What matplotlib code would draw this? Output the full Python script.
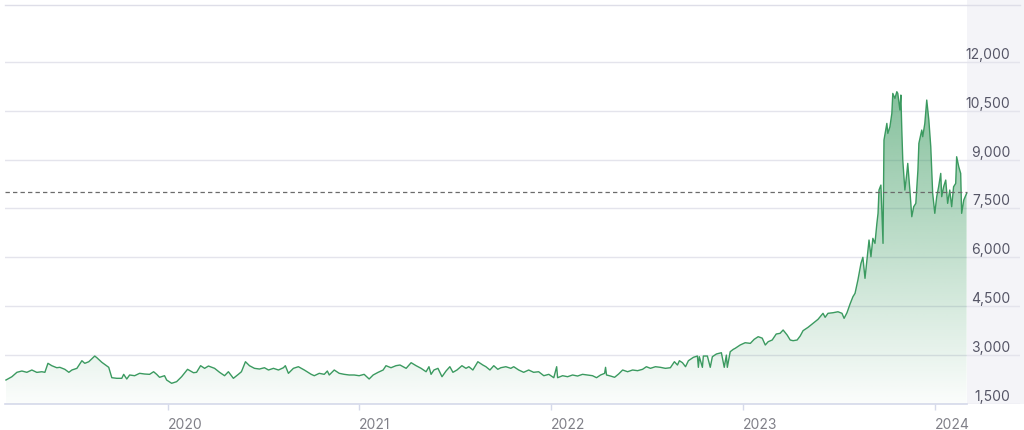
import numpy as np
import matplotlib
matplotlib.use('Agg')
import matplotlib.pyplot as plt
from matplotlib.patches import Rectangle
from matplotlib.ticker import FuncFormatter

# price readings, dates as decimal years
years = [
    2019.157, 2019.188, 2019.214, 2019.240, 2019.266, 2019.292, 2019.318, 2019.344, 2019.360, 2019.376,
    2019.396, 2019.422, 2019.438, 2019.464, 2019.485, 2019.501, 2019.527, 2019.553, 2019.568, 2019.589,
    2019.620, 2019.631, 2019.657, 2019.693, 2019.709, 2019.735, 2019.761, 2019.771, 2019.787, 2019.802,
    2019.828, 2019.854, 2019.880, 2019.906, 2019.927, 2019.943, 2019.958, 2019.984, 2019.995, 2020.021,
    2020.047, 2020.073, 2020.104, 2020.135, 2020.151, 2020.172, 2020.193, 2020.213, 2020.245, 2020.271,
    2020.297, 2020.317, 2020.343, 2020.369, 2020.385, 2020.406, 2020.427, 2020.453, 2020.479, 2020.505,
    2020.526, 2020.552, 2020.578, 2020.604, 2020.614, 2020.630, 2020.656, 2020.682, 2020.713, 2020.749,
    2020.765, 2020.791, 2020.817, 2020.833, 2020.843, 2020.869, 2020.895, 2020.921, 2020.947, 2020.973,
    2020.999, 2021.025, 2021.051, 2021.072, 2021.098, 2021.124, 2021.139, 2021.165, 2021.191, 2021.212,
    2021.244, 2021.270, 2021.296, 2021.322, 2021.348, 2021.363, 2021.374, 2021.389, 2021.410, 2021.431,
    2021.452, 2021.472, 2021.488, 2021.509, 2021.535, 2021.556, 2021.571, 2021.592, 2021.618, 2021.644,
    2021.660, 2021.681, 2021.701, 2021.722, 2021.738, 2021.764, 2021.790, 2021.805, 2021.831, 2021.857,
    2021.883, 2021.909, 2021.935, 2021.962, 2021.988, 2022.014, 2022.029, 2022.034, 2022.060, 2022.086,
    2022.112, 2022.138, 2022.164, 2022.190, 2022.216, 2022.237, 2022.258, 2022.279, 2022.284, 2022.289,
    2022.310, 2022.331, 2022.352, 2022.373, 2022.399, 2022.425, 2022.451, 2022.477, 2022.497, 2022.518,
    2022.544, 2022.570, 2022.596, 2022.622, 2022.643, 2022.659, 2022.669, 2022.685, 2022.701, 2022.716,
    2022.742, 2022.763, 2022.768, 2022.773, 2022.789, 2022.794, 2022.815, 2022.830, 2022.841, 2022.862,
    2022.888, 2022.903, 2022.914, 2022.919, 2022.934, 2022.950, 2022.960, 2022.986, 2023.012, 2023.039,
    2023.059, 2023.080, 2023.101, 2023.117, 2023.132, 2023.153, 2023.174, 2023.194, 2023.210, 2023.231,
    2023.247, 2023.262, 2023.283, 2023.299, 2023.314, 2023.340, 2023.366, 2023.392, 2023.418, 2023.429,
    2023.444, 2023.470, 2023.496, 2023.517, 2023.528, 2023.543, 2023.559, 2023.574, 2023.585, 2023.600,
    2023.616, 2023.626, 2023.637, 2023.647, 2023.658, 2023.668, 2023.678, 2023.689, 2023.699, 2023.705,
    2023.710, 2023.720, 2023.731, 2023.736, 2023.751, 2023.756, 2023.767, 2023.777, 2023.782, 2023.793,
    2023.803, 2023.808, 2023.819, 2023.824, 2023.829, 2023.834, 2023.845, 2023.855, 2023.860, 2023.871,
    2023.881, 2023.891, 2023.902, 2023.913, 2023.918, 2023.933, 2023.938, 2023.949, 2023.959, 2023.970,
    2023.980, 2023.990, 2024.001, 2024.011, 2024.021, 2024.032, 2024.037, 2024.047, 2024.058, 2024.068,
    2024.079, 2024.089, 2024.099, 2024.110, 2024.115, 2024.126, 2024.136, 2024.141, 2024.152, 2024.167,
]
prices = [
    2236, 2337, 2472, 2512, 2472, 2543, 2470, 2490, 2472, 2748,
    2675, 2613, 2625, 2564, 2472, 2543, 2594, 2828, 2748, 2797,
    2972, 2920, 2779, 2625, 2307, 2288, 2288, 2410, 2267, 2390,
    2368, 2441, 2420, 2410, 2490, 2410, 2319, 2368, 2236, 2135,
    2185, 2337, 2564, 2460, 2472, 2675, 2594, 2665, 2594, 2472,
    2368, 2490, 2288, 2410, 2490, 2797, 2675, 2594, 2573, 2613,
    2543, 2594, 2543, 2613, 2675, 2441, 2594, 2644, 2543, 2410,
    2368, 2441, 2410, 2512, 2390, 2543, 2441, 2410, 2390, 2390,
    2368, 2410, 2267, 2390, 2472, 2543, 2675, 2613, 2675, 2696,
    2594, 2767, 2675, 2594, 2490, 2644, 2410, 2543, 2594, 2337,
    2512, 2644, 2472, 2543, 2675, 2594, 2644, 2543, 2797, 2696,
    2644, 2543, 2675, 2564, 2613, 2644, 2594, 2644, 2543, 2472,
    2543, 2472, 2490, 2368, 2410, 2307, 2644, 2307, 2368, 2337,
    2390, 2358, 2410, 2390, 2368, 2307, 2390, 2440, 2625, 2390,
    2358, 2319, 2420, 2543, 2490, 2543, 2522, 2564, 2644, 2594,
    2644, 2625, 2594, 2613, 2797, 2696, 2828, 2767, 2644, 2828,
    2932, 2972, 2625, 2951, 2625, 2972, 2972, 2625, 2951, 3034,
    3073, 2625, 3000, 2625, 3104, 3177, 3208, 3310, 3380, 3360,
    3484, 3565, 3520, 3310, 3411, 3463, 3647, 3668, 3770, 3616,
    3463, 3442, 3463, 3586, 3750, 3852, 3975, 4098, 4282, 4159,
    4282, 4300, 4330, 4282, 4128, 4300, 4567, 4791, 4895, 5303,
    5815, 6000, 5355, 5916, 6530, 6018, 6582, 6428, 7042, 7349,
    8063, 8216, 6428, 9597, 10108, 9801, 10005, 10415, 11028, 10876,
    11080, 11028, 10517, 10977, 9904, 8983, 8063, 8574, 8881, 8063,
    7245, 7552, 7655, 8676, 9495, 9904, 9699, 10108, 10824, 10210,
    9392, 7961, 7349, 7860, 8164, 8574, 7860, 8164, 8370, 7655,
    8063, 7552, 8164, 8267, 9085, 8778, 8574, 7349, 7757, 7961,
]
ref_level = 8000
year_ticks = [2020, 2021, 2022, 2023, 2024]
price_ticks = [1500, 3000, 4500, 6000, 7500, 9000, 10500, 12000]

x = np.array(years)
y = np.array(prices)

fig = plt.figure(figsize=(10.24, 4.30), dpi=100)
fig.patch.set_facecolor('white')
# light panel behind the value labels on the right
fig.add_artist(Rectangle((966.5 / 1024, 26 / 430), 1 - 966.5 / 1024, 1 - 26 / 430,
                         transform=fig.transFigure, facecolor='#f4f4f8',
                         edgecolor='none', zorder=-1))

ax = fig.add_axes([5 / 1024, 26 / 430, 1015 / 1024, 399 / 430])
ax.set_facecolor('none')
x_end = x[-1] + (1020 - 966.5) / 192.2
ax.set_xlim(x[0] - 0.005, x_end)
ax.set_ylim(1500, 13740)

line_col = '#3b9a60'

# gradient fill under the curve
ymax_grad = 11100
grad = np.zeros((256, 2, 4))
grad[:, :, 0] = 0x3b / 255
grad[:, :, 1] = 0x9a / 255
grad[:, :, 2] = 0x60 / 255
grad[:, :, 3] = np.linspace(0.62, 0.02, 256)[:, None]
im = ax.imshow(grad, extent=[x[0], x[-1], 1500, ymax_grad], origin='upper',
               aspect='auto', zorder=1, interpolation='bilinear')
poly = ax.fill_between(x, y, 1500, facecolor='none', edgecolor='none')
clip = poly.get_paths()[0]
im.set_clip_path(clip, transform=ax.transData)

ax.plot(x, y, color=line_col, lw=1.0, zorder=3)
ax.plot([x[0] - 0.005, x[-1]], [ref_level, ref_level], color='#6b6b6b', lw=0.9,
        ls=(0, (3.5, 2.5)), zorder=4)

# grid and spines
ax.set_yticks(price_ticks)
ax.yaxis.set_major_formatter(FuncFormatter(lambda v, p: f'{int(v):,}'))
ax.grid(axis='y', color='#e4e4ec', lw=1.0, zorder=0)
ax.set_axisbelow(True)
for s in ['left', 'right']:
    ax.spines[s].set_visible(False)
ax.spines['top'].set_color('#dedee8')
ax.spines['top'].set_linewidth(1.0)
ax.spines['bottom'].set_visible(False)
ax.plot([x[0] - 0.005, x[-1]], [1500, 1500], color='#d5d9ea', lw=1.2,
        zorder=2, clip_on=False)

ax.yaxis.tick_right()
ax.tick_params(axis='y', length=0, pad=-7, labelsize=10, labelcolor='#555566')
for lab in ax.get_yticklabels():
    lab.set_horizontalalignment('right')
    lab.set_verticalalignment('bottom')

ax.set_xticks(year_ticks)
ax.set_xticklabels([str(t) for t in year_ticks])
ax.tick_params(axis='x', length=4, width=1, color='#d5d9ea', pad=6,
               labelsize=10, labelcolor='#808088')
for lab in ax.get_xticklabels():
    lab.set_horizontalalignment('left')

plt.rcParams['font.family'] = ['Inter', 'DejaVu Sans']
for lab in ax.get_xticklabels() + ax.get_yticklabels():
    lab.set_family(['Inter', 'DejaVu Sans'])

fig.savefig('out.png', dpi=100)
